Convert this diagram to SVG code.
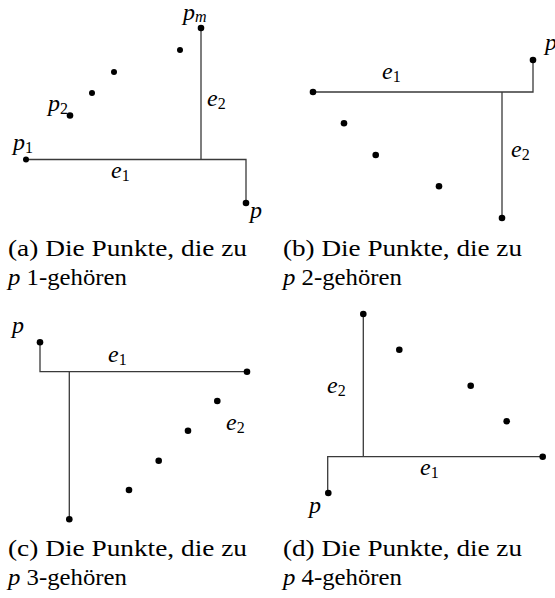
<svg xmlns="http://www.w3.org/2000/svg" width="555" height="598" viewBox="0 0 555 598">
<rect width="555" height="598" fill="#fff"/>
<g id="connectors" stroke="#3a3a3a" stroke-width="1.3" fill="none">
  <path d="M201,28 V159.5 M26,159.5 H246 V203"/>
  <path d="M313,92 H533 V60 M502,92 V218"/>
  <path d="M40,342 V371.7 H247 M69.3,371.7 V519"/>
  <path d="M363.3,314 V456.7 M327.7,493 V456.7 H543"/>
</g>
<g id="panel-a" fill="#000">
  <circle cx="201" cy="28" r="3.3"/>
  <circle cx="180" cy="50" r="3"/>
  <circle cx="114" cy="72" r="3"/>
  <circle cx="92" cy="93" r="3"/>
  <circle cx="70" cy="115.5" r="3.3"/>
  <circle cx="26" cy="159.5" r="3"/>
  <circle cx="246" cy="203" r="3.3"/>
  <text x="183" y="19.5" font-family="Liberation Serif" font-style="italic" font-size="24">p<tspan font-size="16" dy="2.5">m</tspan></text>
  <text x="48" y="111" font-family="Liberation Serif" font-style="italic" font-size="24">p<tspan font-size="16" font-style="normal" dy="3">2</tspan></text>
  <text x="13" y="150" font-family="Liberation Serif" font-style="italic" font-size="24">p<tspan font-size="16" font-style="normal" dy="3">1</tspan></text>
  <text x="111" y="178" font-family="Liberation Serif" font-style="italic" font-size="24">e<tspan font-size="16" font-style="normal" dy="3">1</tspan></text>
  <text x="207" y="106" font-family="Liberation Serif" font-style="italic" font-size="24">e<tspan font-size="16" font-style="normal" dy="3">2</tspan></text>
  <text x="250" y="218" font-family="Liberation Serif" font-style="italic" font-size="24">p</text>
</g>
<g id="panel-b" fill="#000">
  <circle cx="313" cy="92" r="3.3"/>
  <circle cx="533" cy="60" r="3.3"/>
  <circle cx="344" cy="123.3" r="3.3"/>
  <circle cx="375.7" cy="155" r="3.3"/>
  <circle cx="439" cy="186.3" r="3.3"/>
  <circle cx="502" cy="218" r="3.3"/>
  <text x="545" y="50" font-family="Liberation Serif" font-style="italic" font-size="24">p</text>
  <text x="382" y="79" font-family="Liberation Serif" font-style="italic" font-size="24">e<tspan font-size="16" font-style="normal" dy="3">1</tspan></text>
  <text x="511" y="157" font-family="Liberation Serif" font-style="italic" font-size="24">e<tspan font-size="16" font-style="normal" dy="3">2</tspan></text>
</g>
<g id="panel-c" fill="#000">
  <circle cx="40" cy="342.3" r="3.3"/>
  <circle cx="247" cy="371.7" r="3.3"/>
  <circle cx="217.3" cy="401" r="3.3"/>
  <circle cx="188" cy="430.7" r="3.3"/>
  <circle cx="158.7" cy="460.7" r="3.3"/>
  <circle cx="129" cy="490" r="3.3"/>
  <circle cx="69.3" cy="519.3" r="3.3"/>
  <text x="12" y="333" font-family="Liberation Serif" font-style="italic" font-size="24">p</text>
  <text x="108" y="362" font-family="Liberation Serif" font-style="italic" font-size="24">e<tspan font-size="16" font-style="normal" dy="3">1</tspan></text>
  <text x="226" y="430" font-family="Liberation Serif" font-style="italic" font-size="24">e<tspan font-size="16" font-style="normal" dy="3">2</tspan></text>
</g>
<g id="panel-d" fill="#000">
  <circle cx="363.3" cy="314" r="3.3"/>
  <circle cx="399.3" cy="349.7" r="3.3"/>
  <circle cx="470.7" cy="385.7" r="3.3"/>
  <circle cx="506.7" cy="421.3" r="3.3"/>
  <circle cx="542.7" cy="456.7" r="3.3"/>
  <circle cx="328.3" cy="493" r="3.3"/>
  <text x="327" y="393" font-family="Liberation Serif" font-style="italic" font-size="24">e<tspan font-size="16" font-style="normal" dy="3">2</tspan></text>
  <text x="420" y="475" font-family="Liberation Serif" font-style="italic" font-size="24">e<tspan font-size="16" font-style="normal" dy="3">1</tspan></text>
  <text x="309" y="513" font-family="Liberation Serif" font-style="italic" font-size="24">p</text>
</g>
<g id="captions" fill="#000">
  <text x="8" y="256" textLength="239" lengthAdjust="spacingAndGlyphs" font-family="Liberation Serif" font-size="22.5">(a) Die Punkte, die zu</text>
  <text x="8" y="285" textLength="119" lengthAdjust="spacingAndGlyphs" font-family="Liberation Serif" font-size="22.5"><tspan font-style="italic">p</tspan> 1-gehören</text>
  <text x="283" y="256" textLength="239" lengthAdjust="spacingAndGlyphs" font-family="Liberation Serif" font-size="22.5">(b) Die Punkte, die zu</text>
  <text x="283" y="285" textLength="119" lengthAdjust="spacingAndGlyphs" font-family="Liberation Serif" font-size="22.5"><tspan font-style="italic">p</tspan> 2-gehören</text>
  <text x="8" y="556" textLength="239" lengthAdjust="spacingAndGlyphs" font-family="Liberation Serif" font-size="22.5">(c) Die Punkte, die zu</text>
  <text x="8" y="585" textLength="119" lengthAdjust="spacingAndGlyphs" font-family="Liberation Serif" font-size="22.5"><tspan font-style="italic">p</tspan> 3-gehören</text>
  <text x="283" y="556" textLength="239" lengthAdjust="spacingAndGlyphs" font-family="Liberation Serif" font-size="22.5">(d) Die Punkte, die zu</text>
  <text x="283" y="585" textLength="119" lengthAdjust="spacingAndGlyphs" font-family="Liberation Serif" font-size="22.5"><tspan font-style="italic">p</tspan> 4-gehören</text>
</g>
</svg>
